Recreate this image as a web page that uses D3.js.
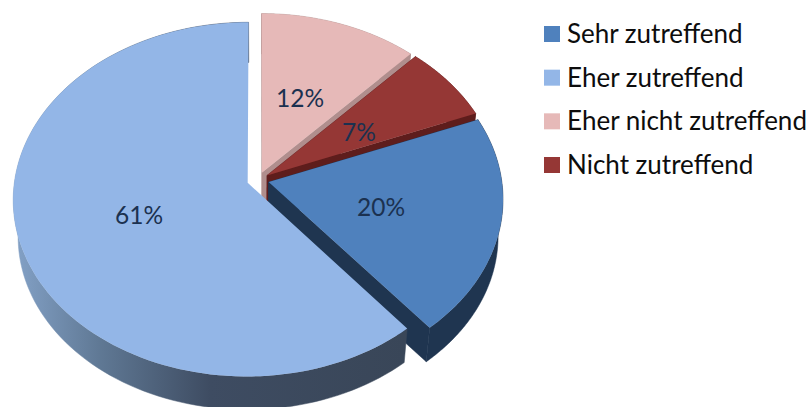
<!DOCTYPE html>
<html>
<head>
<meta charset="utf-8">
<script src="https://cdn.jsdelivr.net/npm/d3@7"></script>
<style>
  html, body { margin: 0; padding: 0; background: #fff; }
  svg { display: block; }
  text { font-family: Lato, "Open Sans", sans-serif; }
</style>
</head>
<body>
<svg id="chart" width="811" height="407"></svg>
<script>
const categories = ["Sehr zutreffend", "Eher zutreffend", "Eher nicht zutreffend", "Nicht zutreffend"];
const shares = [20, 61, 12, 7];
const topColors = ["#4f81bd", "#93b6e7", "#e6b9b8", "#953735"];
const wallColors = ["#1f3550", "#3b4759", "#b08e8d", "#5e1d1c"];
const labelAnchors = [[381, 206], [139, 214], [300, 97], [359, 131]];
const drawOrder = [2, 3, 0, 1];

const svg = d3.select("#chart");

// Pie layout: the last slice closes at twelve o'clock.
const firstAngle = (shares[2] + shares[3]) / 100 * 2 * Math.PI;
const arcs = d3.pie().value(d => d).sort(null)
  .startAngle(firstAngle).endAngle(firstAngle + 2 * Math.PI)(shares);

// Tilted-disc projection with mild perspective.
const view = { cx: 258, cy: 180, rx: 233, ry: 175, persp: 0.0935, explode: 0.047, depth: 37, shrink: 0.98 };

function project(u, v) {
  const w = 1 - view.persp * v;
  return [view.cx + view.rx * u / w, view.cy + view.ry * v / w];
}
const lower = ([x, y]) => [
  view.cx + (x - view.cx) * view.shrink,
  view.cy + (y - view.cy) * view.shrink + view.depth
];
const rimPoint = (slice, angle, r) => {
  const mid = (slice.startAngle + slice.endAngle) / 2;
  return project(
    r * Math.sin(angle) + view.explode * Math.sin(mid),
    -r * Math.cos(angle) - view.explode * Math.cos(mid)
  );
};
const rim = slice => d3.range(0, 121).map(i =>
  rimPoint(slice, slice.startAngle + (slice.endAngle - slice.startAngle) * i / 120, 1));

const closed = d3.line().curve(d3.curveLinearClosed);

// Shading across the outer wall of the large slice.
const grad = svg.append("defs").append("linearGradient")
  .attr("id", "wallShade").attr("gradientUnits", "userSpaceOnUse")
  .attr("x1", 15).attr("x2", 405).attr("y1", 0).attr("y2", 0);
[[0, "#83a1c6"], [0.22, "#5f7894"], [0.5, "#3e4c62"], [1, "#394658"]].forEach(([o, c]) =>
  grad.append("stop").attr("offset", o).attr("stop-color", c));

const pieGroup = svg.append("g");
drawOrder.forEach(i => {
  const slice = arcs[i];
  const edge = rim(slice);
  const apex = rimPoint(slice, slice.startAngle, 0);
  const wallFill = i === 1 ? "url(#wallShade)" : wallColors[i];
  const g = pieGroup.append("g");

  // Outer wall between the upper rim and the lower rim.
  g.append("path")
    .attr("d", closed(edge.concat(edge.map(lower).reverse())))
    .attr("fill", wallFill).attr("stroke", wallFill).attr("stroke-width", 0.5);

  // Cut faces along both radial edges (the large slice hides its own).
  if (i !== 1) {
    [edge[0], edge[edge.length - 1]].forEach(p => {
      g.append("path")
        .attr("d", closed([apex, p, lower(p), lower(apex)]))
        .attr("fill", wallColors[i]).attr("stroke", wallColors[i]).attr("stroke-width", 0.5);
    });
  }

  // Upper surface.
  g.append("path")
    .attr("d", closed([apex].concat(edge)))
    .attr("fill", topColors[i]);
});

// Percentage labels.
svg.append("g").selectAll("text").data(shares).join("text")
  .attr("x", (d, i) => labelAnchors[i][0])
  .attr("y", (d, i) => labelAnchors[i][1])
  .attr("text-anchor", "middle").attr("dominant-baseline", "central")
  .attr("font-size", 24.5).attr("fill", "#1b3150")
  .text(d => d + "%");

// Legend.
const legendY = d3.scaleLinear().domain([0, 3]).range([34, 165]);
const legend = svg.append("g").selectAll("g").data(categories).join("g")
  .attr("transform", (d, i) => `translate(544,${legendY(i)})`);
legend.append("rect")
  .attr("x", 0).attr("y", -8).attr("width", 16).attr("height", 16)
  .attr("fill", (d, i) => topColors[i]);
legend.append("text")
  .attr("x", 23).attr("y", -1).attr("dominant-baseline", "central")
  .attr("font-size", 26).attr("fill", "#0d0d0d")
  .text(d => d);
</script>
</body>
</html>
